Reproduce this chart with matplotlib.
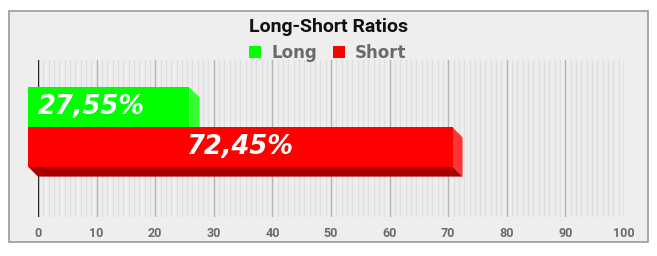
import numpy as np
import matplotlib.pyplot as plt
from matplotlib.patches import Polygon, Rectangle, Patch

# Data
categories = ["Long", "Short"]
values = [27.55, 72.45]
front_colors = ["#00ff00", "#ff0000"]
side_colors = ["#33ff33", "#ff3333"]
bottom_colors = ["#00aa00", "#aa0000"]
x_ticks = [0, 10, 20, 30, 40, 50, 60, 70, 80, 90, 100]

W, H = 657, 256
fig = plt.figure(figsize=(W / 100, H / 100), dpi=100)
fig.patch.set_facecolor("white")

# Outer panel with border
fig.add_artist(Rectangle(
    (9 / W, 1 - 242 / H), 639 / W, 231 / H,
    transform=fig.transFigure, facecolor="#eeeeee",
    edgecolor="#9a9a9a", linewidth=1.2, zorder=0
))

# Plot area: x 0 -> px 38, x 100 -> px 624, top px 60, bottom px 217
ax = fig.add_axes([38 / W, 1 - 217 / H, 586 / W, 157 / H])
ax.set_facecolor("none")
for s in ax.spines.values():
    s.set_visible(False)

ax.set_xlim(0, 100)
ax.set_ylim(2.5, -1.425)

# Grid lines
minor = np.arange(0, 100, 10 / 11)
for xv in minor:
    ax.axvline(xv, color="#dedede", linewidth=0.9, zorder=1)
for xv in x_ticks[1:]:
    ax.axvline(xv, color="#b5b5b5", linewidth=1.0, zorder=1)
ax.axvline(0, color="#222222", linewidth=1.0, zorder=1.5)

ax.set_xticks(x_ticks)
ax.set_xticklabels([str(t) for t in x_ticks], fontsize=9,
                   color="#6a6a6a", fontfamily="Roboto", fontweight="bold")
ax.tick_params(axis="x", length=0, pad=7)
ax.set_yticks([])

# 3D offset: front face shifted 10 px left and 10 px up
fig.canvas.draw()
p0 = ax.transData.transform((0, 0))
q = ax.transData.inverted().transform(p0 + np.array([-10, 10]))
dx, dy = q[0], q[1]

bar_h = 0.98
for i, (cat, v) in enumerate(zip(categories, values)):
    y0 = i - bar_h / 2
    y1 = i + bar_h / 2
    # right side face
    ax.add_patch(Polygon(
        [(v + dx, y0 + dy), (v, y0), (v, y1), (v + dx, y1 + dy)],
        closed=True, facecolor=side_colors[i], edgecolor="none",
        zorder=3 + i * 3, clip_on=False))
    # bottom face
    ax.add_patch(Polygon(
        [(dx, y1 + dy), (v + dx, y1 + dy), (v, y1), (0, y1)],
        closed=True, facecolor=bottom_colors[i], edgecolor="none",
        zorder=3 + i * 3, clip_on=False))
    # front face
    ax.add_patch(Rectangle(
        (dx, y0 + dy), v, bar_h, facecolor=front_colors[i],
        edgecolor="none", zorder=4 + i * 3, clip_on=False))

    label = f"{v:.2f}".replace(".", ",") + "%"
    if v < 50:
        tx, ha = dx + 10 / 5.86, "left"
    else:
        tx, ha = dx + v / 2, "center"
    ax.text(tx, i + dy, label, ha=ha, va="center", color="white",
            fontsize=18.5, fontweight="bold", fontstyle="italic",
            fontfamily="DejaVu Sans", zorder=10, clip_on=False)

# Title
fig.text(329 / W, 1 - 27 / H, "Long-Short Ratios", ha="center", va="center",
         fontsize=14, fontweight="bold", fontfamily="Roboto", color="#111111")

# Legend
handles = [Patch(facecolor=c, edgecolor="none") for c in front_colors]
leg = fig.legend(handles, categories, loc="center",
                 bbox_to_anchor=(328 / W, 1 - 53 / H), ncol=2, frameon=False,
                 handlelength=0.7, handleheight=0.7, handletextpad=0.6,
                 columnspacing=1.0,
                 prop={"family": "DejaVu Sans", "weight": "bold", "size": 12})
for t in leg.get_texts():
    t.set_color("#6a6a6a")

plt.savefig("out.png", dpi=100)
plt.close()
